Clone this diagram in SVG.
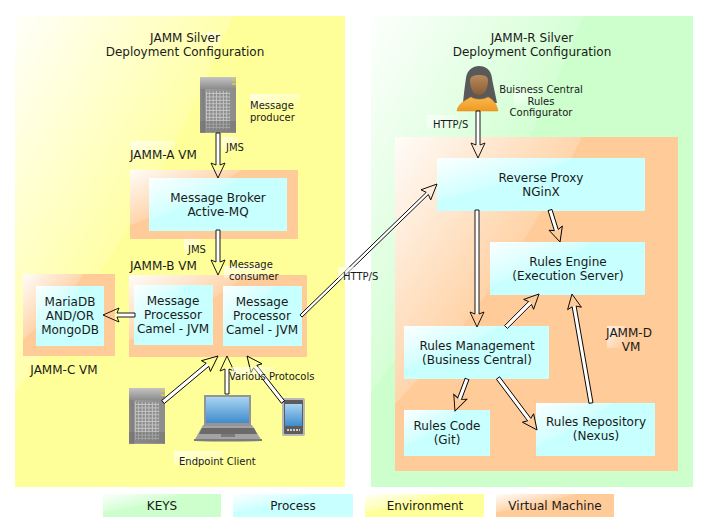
<svg xmlns="http://www.w3.org/2000/svg" width="708" height="532" viewBox="0 0 708 532">
<style>
text{font-family:"DejaVu Sans",sans-serif;font-size:12px;fill:#1a1a1a;text-anchor:middle}
.s{font-size:10px}
.l{text-anchor:start}
.y{fill:#ffff99}.g{fill:#ccffcc}.c{fill:#c8ffff}.o{fill:#ffcc99}
.shaft{fill:#fff;stroke:none}
.head{fill:none;stroke:#000;stroke-width:.9;stroke-linejoin:miter}
.halo{fill:url(#hl)}
</style>
<defs>
<linearGradient id="gl" x1="0" y1="0" x2="1" y2="1"><stop offset="0" stop-color="#fff" stop-opacity=".95"/><stop offset=".55" stop-color="#fff" stop-opacity=".12"/></linearGradient>
<linearGradient id="hl" x1="0" y1="0" x2="1" y2="1"><stop offset="0" stop-color="#fff" stop-opacity=".75"/><stop offset="1" stop-color="#fff" stop-opacity="0"/></linearGradient>
<path id="gloss" d="M0,0H.66Q.42,.42 0,.8Z" fill="url(#gl)"/>
<linearGradient id="sv" x1="0" y1="0" x2="1" y2="0"><stop offset="0" stop-color="#8a8a8a"/><stop offset=".12" stop-color="#7e7e7e"/><stop offset=".16" stop-color="#9c9c9c"/><stop offset="1" stop-color="#8c8c8c"/></linearGradient>
<linearGradient id="svt" x1="0" y1="0" x2="0" y2="1"><stop offset="0" stop-color="#c4c4c4"/><stop offset="1" stop-color="#8c8c8c"/></linearGradient>
<linearGradient id="scr" x1="0" y1="0" x2="0" y2="1"><stop offset="0" stop-color="#a8d4f2"/><stop offset="1" stop-color="#3f8ccb"/></linearGradient>
<linearGradient id="body" x1="0" y1="0" x2="0" y2="1"><stop offset="0" stop-color="#f9b850"/><stop offset="1" stop-color="#f09a20"/></linearGradient>
<linearGradient id="face" x1="0" y1="0" x2="0" y2="1"><stop offset="0" stop-color="#b98a5c"/><stop offset="1" stop-color="#8a5c35"/></linearGradient>
<pattern id="grid" width="3.4" height="3.4" patternUnits="userSpaceOnUse"><rect width="3.4" height="3.4" fill="#c6c6c6"/><rect width="2.4" height="2.4" fill="#8a8a8a"/></pattern>
<g id="server">
<rect width="36" height="56" fill="url(#sv)"/>
<rect width="36" height="12" fill="url(#svt)"/>
<rect x="6" y="14" width="24" height="38" fill="url(#grid)"/>
<rect x="0" y="44" width="36" height="11" fill="#666" opacity=".35"/>
<rect x="32" y="2" width="4" height="2" fill="#c9c94a"/><rect x="32" y="6" width="4" height="2" fill="#c9c94a"/>
</g>
</defs>
<rect width="708" height="532" fill="#fff"/>

<g id="env-jamm"><rect class="y" x="15" y="16" width="330" height="471"/><use href="#gloss" transform="translate(15,16) scale(330,471)"/>
<rect class="halo" x="207" y="32" width="13" height="14"/>
<text x="185" y="42">JAMM Silver</text><text x="185" y="56">Deployment Configuration</text></g>
<g id="env-jammr"><rect class="g" x="371" y="16" width="322" height="471"/><use href="#gloss" transform="translate(371,16) scale(322,471)"/>
<text x="532" y="42">JAMM-R Silver</text><text x="532" y="56">Deployment Configuration</text></g>

<g id="vm-a"><rect class="o" x="130" y="170" width="168" height="69"/><use href="#gloss" transform="translate(130,170) scale(168,69)"/>
<rect class="halo" x="131" y="141" width="44" height="14"/><text class="l" x="130" y="159">JAMM-A VM</text></g>
<g id="broker"><rect class="c" x="149" y="178" width="138" height="53"/><use href="#gloss" transform="translate(149,178) scale(138,53)"/>
<text x="218" y="202">Message Broker</text><text x="218" y="216">Active-MQ</text></g>
<g id="vm-b"><rect class="o" x="129" y="275" width="178" height="82"/><use href="#gloss" transform="translate(129,275) scale(178,82)"/>
<text class="l" x="130" y="270">JAMM-B VM</text></g>
<g id="proc1"><rect class="c" x="134" y="285" width="79" height="60"/><use href="#gloss" transform="translate(134,285) scale(79,60)"/>
<text x="173" y="305">Message</text><text x="173" y="319">Processor</text><text x="173" y="333">Camel - JVM</text></g>
<g id="proc2"><rect class="c" x="223" y="286" width="79" height="60"/><use href="#gloss" transform="translate(223,286) scale(79,60)"/>
<text x="262" y="306">Message</text><text x="262" y="320">Processor</text><text x="262" y="334">Camel - JVM</text></g>
<g id="vm-c"><rect class="o" x="23" y="274" width="92" height="82"/><use href="#gloss" transform="translate(23,274) scale(92,82)"/>
<text x="64" y="374">JAMM-C VM</text></g>
<g id="db"><rect class="c" x="36" y="286" width="68" height="60"/><use href="#gloss" transform="translate(36,286) scale(68,60)"/>
<text x="70" y="306">MariaDB</text><text x="70" y="320">AND/OR</text><text x="70" y="334">MongoDB</text></g>

<g id="vm-d"><rect class="o" x="395" y="137" width="283" height="334"/><use href="#gloss" transform="translate(395,137) scale(283,334)"/>
<rect class="halo" x="607" y="326" width="18" height="22"/>
<text x="629" y="337">JAMM-D</text><text x="631" y="351">VM</text></g>
<g id="proxy"><rect class="c" x="437" y="158" width="208" height="53"/><use href="#gloss" transform="translate(437,158) scale(208,53)"/>
<text x="541" y="182">Reverse Proxy</text><text x="541" y="196">NGinX</text></g>
<g id="engine"><rect class="c" x="490" y="242" width="155" height="53"/><use href="#gloss" transform="translate(490,242) scale(155,53)"/>
<text x="568" y="266">Rules Engine</text><text x="568" y="280">(Execution Server)</text></g>
<g id="mgmt"><rect class="c" x="404" y="326" width="145" height="53"/><use href="#gloss" transform="translate(404,326) scale(145,53)"/>
<text x="477" y="350">Rules Management</text><text x="477" y="364">(Business Central)</text></g>
<g id="code"><rect class="c" x="404" y="410" width="86" height="46"/><use href="#gloss" transform="translate(404,410) scale(86,46)"/>
<text x="447" y="430">Rules Code</text><text x="447" y="444">(Git)</text></g>
<g id="repo"><rect class="c" x="536" y="403" width="119" height="53"/><use href="#gloss" transform="translate(536,403) scale(119,53)"/>
<text x="596" y="426">Rules Repository</text><text x="596" y="440">(Nexus)</text></g>

<g id="producer"><use href="#server" x="200" y="77"/>
<rect class="halo" x="250" y="94" width="50" height="14"/>
<text class="s l" x="250" y="109">Message</text><text class="s l" x="250" y="121">producer</text></g>
<g id="client-server"><use href="#server" x="129" y="388"/></g>
<g id="laptop">
<path d="M203,425L194,441H262L252,425Z" fill="#a3a3a3"/>
<path d="M194,439H262V441Q228,442 194,441Z" fill="#7c7c7c"/>
<path d="M202,428H254L257,434H199Z" fill="#6a6a6a"/>
<rect x="221" y="434" width="14" height="3" fill="#7a7a7a"/>
<rect x="204" y="395" width="47" height="31" fill="#959595"/>
<rect x="206" y="397" width="43" height="26" fill="url(#scr)"/>
</g>
<g id="phone">
<rect x="282" y="398" width="23" height="38" rx="2" fill="#b8b8b8"/>
<rect x="284" y="400" width="19" height="34" rx="1" fill="#5c5c5c"/>
<rect x="285" y="404" width="17" height="22" fill="url(#scr)"/>
<path d="M287,430H300" stroke="#ccc" stroke-width="2" stroke-dasharray="2 1"/>
</g>
<g id="person">
<path d="M463,103C464,92 465,85 466,78C467,70 473,66 479,66C486,66 491,70 492,78C493,85 495,92 497,103Z" fill="#595959"/>
<path d="M457,111C458,104 464,101 471,97C475,100 484,100 488,97C494,100 497,105 498,111Z" fill="url(#body)" stroke="#d98a1e" stroke-width=".5"/>
<path d="M470,80C470,76 475,75 479,75C484,75 488,76 488,80C488,88 485,95 479,95C473,95 470,88 470,80Z" fill="url(#face)"/>
</g>

<g id="connectors">
<g transform="translate(218,133) rotate(90)"><rect class="shaft" y="-2" width="31" height="4"/><path class="head" d="M45,0L30,-7L32,-2H0V2H32L30,7Z"/></g>
<g transform="translate(218,230) rotate(90)"><rect class="shaft" y="-2" width="32" height="4"/><path class="head" d="M45,0L30,-7L32,-2H0V2H32L30,7Z"/></g>
<g transform="translate(135,315) rotate(180)"><rect class="shaft" y="-2" width="18" height="4"/><path class="head" d="M32,0L16,-7L18,-2H0V2H18L16,7Z"/></g>
<g transform="translate(163,402) rotate(-39.9)"><rect class="shaft" y="-2" width="58" height="4"/><path class="head" d="M71.7,0L56,-7L58,-2H0V2H58L56,7Z"/></g>
<g transform="translate(227,394) rotate(-90)"><rect class="shaft" y="-2" width="25" height="4"/><path class="head" d="M38,0L23,-7L25,-2H0V2H25L23,7Z"/></g>
<g transform="translate(283,402) rotate(-128.05)"><rect class="shaft" y="-2" width="45" height="4"/><path class="head" d="M58.4,0L43,-7L45,-2H0V2H45L43,7Z"/></g>
<g transform="translate(301,316) rotate(-44.14)"><rect class="shaft" y="-1.5" width="176" height="3"/><path class="head" d="M189.5,0L174,-7L176,-1.5H0V1.5H176L174,7Z"/></g>
<g transform="translate(478,111) rotate(90)"><rect class="shaft" y="-2" width="34" height="4"/><path class="head" d="M47,0L32,-7L34,-2H0V2H34L32,7Z"/></g>
<g transform="translate(477,210) rotate(90)"><rect class="shaft" y="-2" width="104" height="4"/><path class="head" d="M117,0L102,-7L104,-2H0V2H104L102,7Z"/></g>
<g transform="translate(550,210) rotate(72.6)"><rect class="shaft" y="-2" width="21" height="4"/><path class="head" d="M33.5,0L19,-7L21,-2H0V2H21L19,7Z"/></g>
<g transform="translate(506,327) rotate(-45)"><rect class="shaft" y="-2" width="34" height="4"/><path class="head" d="M46.7,0L32,-7L34,-2H0V2H34L32,7Z"/></g>
<g transform="translate(591,403) rotate(-99.9)"><rect class="shaft" y="-2" width="98" height="4"/><path class="head" d="M110.6,0L96,-7L98,-2H0V2H98L96,7Z"/></g>
<g transform="translate(467,379) rotate(110.6)"><rect class="shaft" y="-2" width="21" height="4"/><path class="head" d="M34.2,0L19,-7L21,-2H0V2H21L19,7Z"/></g>
<g transform="translate(498,378) rotate(53.1)"><rect class="shaft" y="-2" width="52" height="4"/><path class="head" d="M65,0L50,-7L52,-2H0V2H52L50,7Z"/></g>
</g>

<g id="labels">
<rect class="halo" x="222" y="137" width="16" height="14"/><text class="s l" x="226" y="151">JMS</text>
<rect class="halo" x="184" y="239" width="16" height="14"/><text class="s l" x="188" y="253">JMS</text>
<rect class="halo" x="224" y="266" width="48" height="12"/><text class="s l" x="229" y="268">Message</text><text class="s l" x="229" y="280">consumer</text>
<rect class="halo" x="338" y="267" width="30" height="12"/><text class="s l" x="343" y="280">HTTP/S</text>
<rect class="halo" x="232" y="367" width="43" height="12"/><text class="s l" x="229" y="380">Various Protocols</text>
<rect class="halo" x="174" y="451" width="49" height="14"/><text class="s l" x="179" y="465">Endpoint Client</text>
<rect class="halo" x="427" y="115" width="30" height="13"/><text class="s l" x="433" y="128">HTTP/S</text>
<rect class="halo" x="514" y="90" width="20" height="16"/>
<text class="s" x="541" y="93">Buisness Central</text><text class="s" x="541" y="105">Rules</text><text class="s" x="541" y="116">Configurator</text>
</g>

<g id="legend">
<g id="key-keys"><rect class="g" x="103" y="494" width="118" height="23"/><use href="#gloss" transform="translate(103,494) scale(118,23)"/><text x="162" y="510">KEYS</text></g>
<g id="key-process"><rect class="c" x="233" y="494" width="120" height="23"/><use href="#gloss" transform="translate(233,494) scale(120,23)"/><text x="293" y="510">Process</text></g>
<g id="key-env"><rect class="y" x="365" y="494" width="119" height="23"/><use href="#gloss" transform="translate(365,494) scale(119,23)"/><text x="425" y="510">Environment</text></g>
<g id="key-vm"><rect class="o" x="496" y="494" width="118" height="23"/><use href="#gloss" transform="translate(496,494) scale(118,23)"/><text x="555" y="510">Virtual Machine</text></g>
</g>
</svg>
